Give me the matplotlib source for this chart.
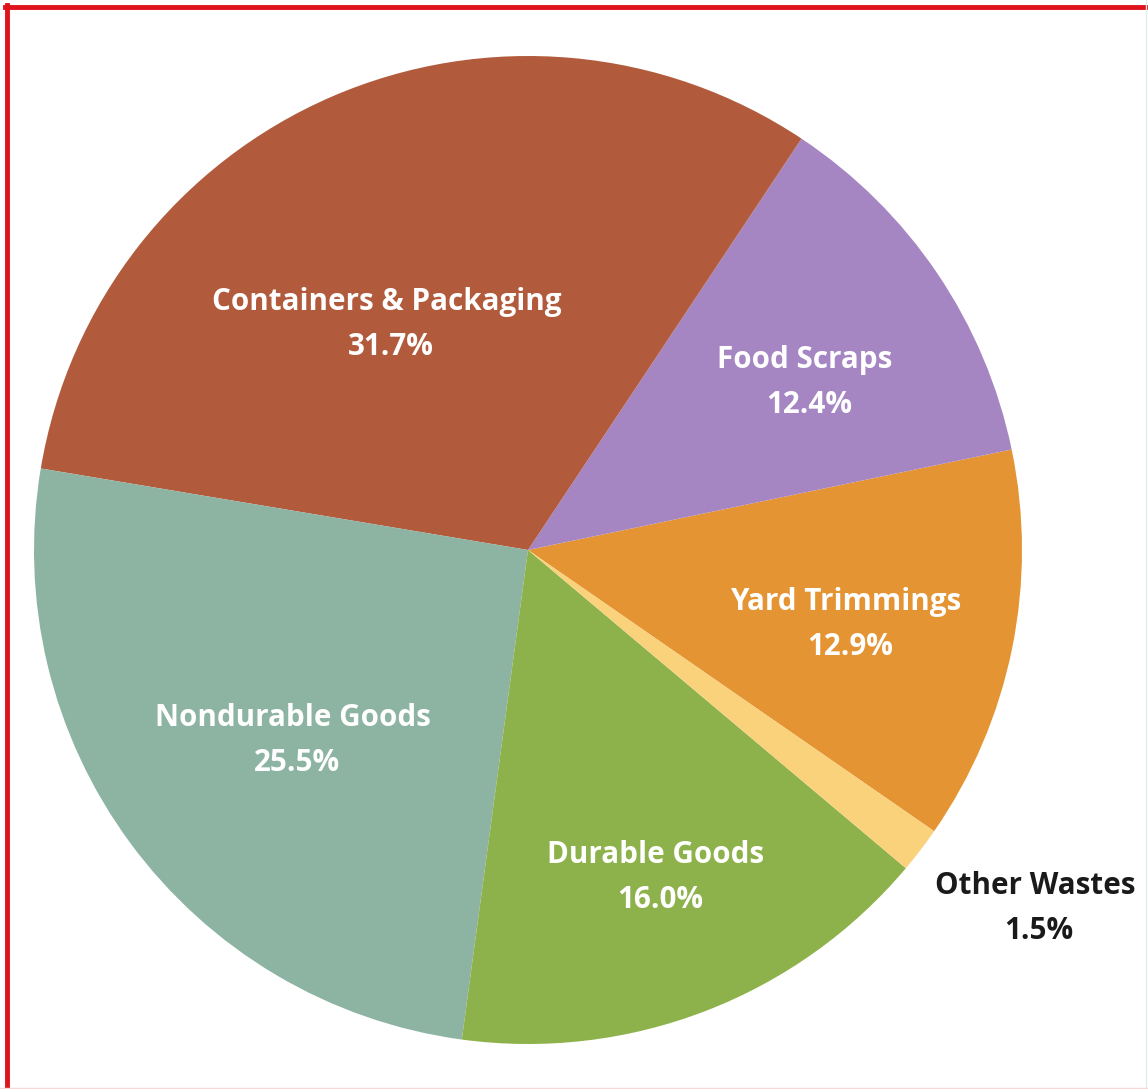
import numpy as np
import matplotlib.pyplot as plt
from matplotlib.lines import Line2D

# slices, counterclockwise starting at the Yard/Other boundary
labels = ['Yard Trimmings', 'Food Scraps', 'Containers & Packaging',
          'Nondurable Goods', 'Durable Goods', 'Other Wastes']
values = [12.9, 12.4, 31.7, 25.5, 16.0, 1.5]
colors = ['#E59433', '#A586C3', '#B15B3C', '#8DB3A3', '#8EB24B', '#FAD27C']
text_colors = ['white', 'white', 'white', 'white', 'white', '#1a1a1a']

W, H = 1148, 1089
fig = plt.figure(figsize=(W / 100, H / 100), dpi=100)
ax = fig.add_axes([0, 0, 1, 1])

ax.pie(values, colors=colors, startangle=-34.7, counterclock=True,
       center=(528, H - 550), radius=494,
       wedgeprops={'linewidth': 0})
ax.set_xlim(0, W)
ax.set_ylim(0, H)
ax.set_aspect('equal')
ax.axis('off')

# label positions (pixel coords from top-left)
label_pos = [(846, 602), (805, 360), (387, 302), (293, 718), (656, 855), (1035, 886)]
for lab, v, (x, y), tc in zip(labels, values, label_pos, text_colors):
    ax.text(x, H - y, lab, ha='center', va='center', color=tc,
            fontsize=21.3, fontweight='bold', family='Open Sans')
    ax.text(x + 4, H - y - 45, '%.1f%%' % v, ha='center', va='center', color=tc,
            fontsize=21.3, fontweight='bold', family='Open Sans')

# frame: red on top and left, faint on right and bottom
fig.add_artist(Line2D([7 / W, 7 / W], [0, 1 - 5 / H], transform=fig.transFigure,
                      color='#E0121B', linewidth=3.5))
fig.add_artist(Line2D([5 / W, 1], [1 - 7 / H, 1 - 7 / H], transform=fig.transFigure,
                      color='#E0121B', linewidth=3.5))
fig.add_artist(Line2D([1 - 2 / W, 1 - 2 / W], [0, 1], transform=fig.transFigure,
                      color='#E4ECEC', linewidth=1))
fig.add_artist(Line2D([0, 1], [1 / H, 1 / H], transform=fig.transFigure,
                      color='#F6D8D8', linewidth=1))

fig.savefig('out.png', dpi=100)
